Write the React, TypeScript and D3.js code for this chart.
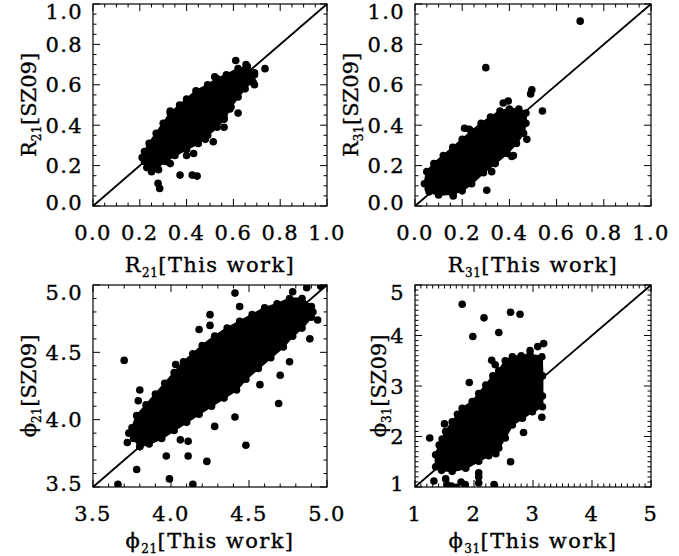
import React from "react";
import * as d3 from "d3";

type Pt = [number, number];

// ---------- Tick values / labels ----------
const rTicks = [0, 0.2, 0.4, 0.6, 0.8, 1.0];
const rTickLabels = ["0.0", "0.2", "0.4", "0.6", "0.8", "1.0"];
const phi21Ticks = [3.5, 4.0, 4.5, 5.0];
const phi21TickLabels = ["3.5", "4.0", "4.5", "5.0"];
const phi31Ticks = [1, 2, 3, 4, 5];
const phi31TickLabels = ["1", "2", "3", "4", "5"];

// ---------- Panel 1: R21 ----------
// boundary points of the dense core of the cloud
const r21Core: Pt[] = [
  [0.22, 0.22], [0.23, 0.19], [0.27, 0.19], [0.31, 0.22], [0.35, 0.25], [0.40, 0.28],
  [0.45, 0.31], [0.49, 0.35], [0.53, 0.39], [0.56, 0.43], [0.59, 0.49], [0.62, 0.54],
  [0.65, 0.58], [0.68, 0.62], [0.69, 0.65], [0.66, 0.69], [0.62, 0.68], [0.57, 0.65],
  [0.53, 0.63], [0.49, 0.60], [0.44, 0.57], [0.40, 0.53], [0.37, 0.50], [0.33, 0.46],
  [0.30, 0.41], [0.27, 0.36], [0.24, 0.31], [0.22, 0.27],
];
const r21Outliers: Pt[] = [
  [0.25, 0.17], [0.28, 0.18], [0.278, 0.112], [0.285, 0.087], [0.33, 0.21], [0.372, 0.153],
  [0.424, 0.153], [0.445, 0.148], [0.43, 0.26], [0.514, 0.318], [0.526, 0.396], [0.56, 0.39],
  [0.56, 0.44], [0.585, 0.48], [0.62, 0.46], [0.52, 0.64], [0.61, 0.72], [0.654, 0.70],
  [0.69, 0.66], [0.735, 0.68], [0.685, 0.61], [0.69, 0.60], [0.33, 0.47], [0.21, 0.24],
  [0.40, 0.25], [0.48, 0.33],
];

// ---------- Panel 2: R31 ----------
const r31Core: Pt[] = [
  [0.04, 0.11], [0.06, 0.07], [0.10, 0.055], [0.16, 0.06], [0.20, 0.075], [0.24, 0.11],
  [0.29, 0.165], [0.34, 0.21], [0.39, 0.26], [0.43, 0.31], [0.46, 0.36], [0.47, 0.41],
  [0.47, 0.46], [0.44, 0.48], [0.40, 0.48], [0.36, 0.47], [0.32, 0.44], [0.28, 0.41],
  [0.24, 0.37], [0.20, 0.33], [0.16, 0.29], [0.12, 0.25], [0.08, 0.21], [0.05, 0.17],
];
const r31Outliers: Pt[] = [
  [0.70, 0.915], [0.30, 0.685], [0.495, 0.575], [0.49, 0.555], [0.54, 0.47], [0.474, 0.33],
  [0.417, 0.25], [0.41, 0.245], [0.325, 0.17], [0.304, 0.078], [0.162, 0.05], [0.21, 0.385],
  [0.23, 0.38], [0.374, 0.51], [0.395, 0.52], [0.056, 0.085], [0.43, 0.44], [0.36, 0.30],
];

// ---------- Panel 3: phi21 ----------
const phi21Core: Pt[] = [
  [3.76, 3.86], [3.75, 3.94], [3.78, 4.03], [3.84, 4.11], [3.90, 4.19], [3.96, 4.27],
  [4.02, 4.35], [4.08, 4.43], [4.14, 4.49], [4.20, 4.55], [4.28, 4.62], [4.36, 4.68],
  [4.44, 4.73], [4.52, 4.78], [4.60, 4.83], [4.68, 4.86], [4.76, 4.90], [4.84, 4.90],
  [4.90, 4.84], [4.90, 4.76], [4.84, 4.68], [4.78, 4.62], [4.72, 4.54], [4.64, 4.46],
  [4.56, 4.38], [4.48, 4.30], [4.42, 4.22], [4.34, 4.16], [4.26, 4.10], [4.18, 4.04],
  [4.10, 3.98], [4.02, 3.92], [3.94, 3.86], [3.86, 3.82], [3.80, 3.80],
];
const phi21Outliers: Pt[] = [
  [3.70, 4.44], [3.80, 4.22], [3.79, 4.14], [3.73, 3.90], [3.72, 3.83], [3.80, 3.80],
  [3.78, 3.63], [3.66, 3.52], [3.99, 3.56], [4.14, 3.52], [3.97, 3.73], [4.11, 3.73],
  [4.11, 3.84], [4.23, 3.69], [4.48, 3.81], [4.28, 3.95], [4.41, 4.02], [4.57, 4.26],
  [4.69, 4.12], [4.70, 4.33], [4.76, 4.43], [4.89, 4.60], [4.94, 4.74], [4.91, 4.80],
  [4.96, 4.99], [4.87, 4.98], [4.78, 4.95], [4.41, 4.94], [4.25, 4.78], [4.25, 4.70],
  [4.18, 4.67], [4.12, 4.36], [4.03, 4.41], [4.01, 4.30], [4.44, 4.84], [3.92, 4.07],
  [4.06, 3.85], [3.86, 3.88],
];

// ---------- Panel 4: phi31 ----------
const phi31Core: Pt[] = [
  [1.35, 1.40], [1.35, 1.64], [1.41, 1.83], [1.52, 2.10], [1.63, 2.29], [1.80, 2.56],
  [1.97, 2.69], [2.08, 2.85], [2.20, 3.02], [2.32, 3.20], [2.42, 3.30], [2.53, 3.50],
  [2.65, 3.58], [2.80, 3.60], [2.95, 3.62], [3.15, 3.58], [3.16, 3.20], [3.16, 2.80],
  [3.16, 2.59], [2.99, 2.49], [2.82, 2.36], [2.65, 2.23], [2.53, 1.97], [2.42, 1.77],
  [2.25, 1.62], [2.08, 1.51], [1.86, 1.37], [1.63, 1.31], [1.45, 1.33],
];
const phi31Outliers: Pt[] = [
  [1.25, 1.97], [1.46, 1.95], [1.50, 2.25], [1.72, 2.44], [1.92, 3.07], [1.98, 3.98],
  [2.17, 4.35], [2.42, 4.06], [2.62, 4.46], [2.78, 4.42], [1.80, 4.62], [2.30, 3.51],
  [2.36, 3.42], [3.08, 3.78], [3.18, 3.84], [2.95, 3.70], [3.15, 2.38], [2.84, 2.08],
  [2.62, 1.50], [2.37, 1.66], [2.08, 1.28], [2.08, 1.20], [2.08, 1.08], [2.34, 1.05],
  [1.32, 1.12], [1.52, 1.16], [1.54, 1.05], [1.62, 1.02], [1.78, 1.10], [1.85, 1.05],
  [1.70, 0.99],
];

const FONT = "'DejaVu Serif', 'Liberation Serif', serif";
const DOT_R = 3.8;
const TXT = { fontFamily: FONT, fontSize: 21, fill: "#000", stroke: "#000", strokeWidth: 0.35, letterSpacing: 1.4 };

interface Frame { left: number; right: number; top: number; bottom: number; }

interface PanelProps {
  id: string;
  frame: Frame;
  domain: [number, number];
  ticks: number[];
  tickLabels: string[];
  minorStep: number;
  core: Pt[];
  outliers: Pt[];
  sym: string;
  sub: string;
  yTitleX: number;
  xTitleOffset: number;
}

function AxisTitle({ x, y, sym, sub, rest, rotate }: { x: number; y: number; sym: string; sub: string; rest: string; rotate?: boolean }) {
  return (
    <text
      x={0}
      y={0}
      transform={rotate ? `translate(${x},${y}) rotate(-90)` : `translate(${x},${y})`}
      textAnchor="middle"
      {...TXT}
      letterSpacing={rotate ? 0 : 1.4}
    >
      <tspan>{sym}</tspan>
      <tspan fontSize={12} dy={5} letterSpacing={0.5}>{sub}</tspan>
      <tspan dy={-5}>{rest}</tspan>
    </text>
  );
}

function Panel(p: PanelProps) {
  const { frame, domain } = p;
  const x = d3.scaleLinear().domain(domain).range([frame.left, frame.right]);
  const y = d3.scaleLinear().domain(domain).range([frame.bottom, frame.top]);
  const minor = d3.range(domain[0], domain[1] + 1e-9, p.minorStep);
  const majorLen = 7;
  const minorLen = 3.5;
  const line = d3.line<Pt>().x((d) => x(d[0])).y((d) => y(d[1]));
  const area = d3.line<Pt>().x((d) => x(d[0])).y((d) => y(d[1])).curve(d3.curveLinearClosed);
  const diag: Pt[] = [[domain[0], domain[0]], [domain[1], domain[1]]];
  const cx = (frame.left + frame.right) / 2;
  const cy = (frame.top + frame.bottom) / 2;
  const labelY = (t: number) => Math.min(Math.max(y(t), frame.top + 7), frame.bottom - 4);

  return (
    <g>
      <defs>
        <clipPath id={`clip-${p.id}`}>
          <rect x={frame.left} y={frame.top} width={frame.right - frame.left} height={frame.bottom - frame.top} />
        </clipPath>
      </defs>
      <g clipPath={`url(#clip-${p.id})`}>
        <path d={area(p.core) || ""} fill="#000" stroke="#000" strokeWidth={2} />
        {p.core.map((d, i) => (
          <circle key={`c${i}`} cx={x(d[0])} cy={y(d[1])} r={DOT_R} fill="#000" />
        ))}
        {p.outliers.map((d, i) => (
          <circle key={`o${i}`} cx={x(d[0])} cy={y(d[1])} r={DOT_R} fill="#000" />
        ))}
      </g>
      <path d={line(diag) || ""} fill="none" stroke="#000" strokeWidth={1.8} />
      <rect
        x={frame.left}
        y={frame.top}
        width={frame.right - frame.left}
        height={frame.bottom - frame.top}
        fill="none"
        stroke="#000"
        strokeWidth={1.2}
      />
      {minor.map((v, i) => {
        const isMajor = p.ticks.some((t) => Math.abs(t - v) < 1e-6);
        const len = isMajor ? majorLen : minorLen;
        const xv = x(v);
        const yv = y(v);
        return (
          <g key={`t${i}`} stroke="#000" strokeWidth={1}>
            <line x1={xv} x2={xv} y1={frame.bottom} y2={frame.bottom - len} />
            <line x1={xv} x2={xv} y1={frame.top} y2={frame.top + len} />
            <line x1={frame.left} x2={frame.left + len} y1={yv} y2={yv} />
            <line x1={frame.right} x2={frame.right - len} y1={yv} y2={yv} />
          </g>
        );
      })}
      {p.ticks.map((t, i) => (
        <text key={`xl${i}`} x={x(t)} y={frame.bottom + 34} textAnchor="middle" {...TXT}>
          {p.tickLabels[i]}
        </text>
      ))}
      {p.ticks.map((t, i) => (
        <text key={`yl${i}`} x={frame.left - 10} y={labelY(t)} dy="0.36em" textAnchor="end" {...TXT}>
          {p.tickLabels[i]}
        </text>
      ))}
      <AxisTitle x={cx} y={frame.bottom + p.xTitleOffset} sym={p.sym} sub={p.sub} rest="[This work]" />
      <AxisTitle x={p.yTitleX} y={cy} sym={p.sym} sub={p.sub} rest="[SZ09]" rotate />
    </g>
  );
}

export default function App() {
  const topRow = { top: 4, bottom: 206 };
  const botRow = { top: 285, bottom: 487 };
  const leftCol = { left: 93, right: 327 };
  const rightCol = { left: 415, right: 651 };
  return (
    <svg
      width={679}
      height={556}
      style={{ display: "block", position: "absolute", left: 0, top: 0, background: "#fff" }}
    >
      <rect width={679} height={556} fill="#fff" />
      <Panel
        id="r21"
        frame={{ ...leftCol, ...topRow }}
        domain={[0, 1]}
        ticks={rTicks}
        tickLabels={rTickLabels}
        minorStep={0.05}
        core={r21Core}
        outliers={r21Outliers}
        sym="R"
        sub="21"
        yTitleX={36}
        xTitleOffset={66}
      />
      <Panel
        id="r31"
        frame={{ ...rightCol, ...topRow }}
        domain={[0, 1]}
        ticks={rTicks}
        tickLabels={rTickLabels}
        minorStep={0.05}
        core={r31Core}
        outliers={r31Outliers}
        sym="R"
        sub="31"
        yTitleX={358}
        xTitleOffset={66}
      />
      <Panel
        id="p21"
        frame={{ ...leftCol, ...botRow }}
        domain={[3.5, 5.0]}
        ticks={phi21Ticks}
        tickLabels={phi21TickLabels}
        minorStep={0.1}
        core={phi21Core}
        outliers={phi21Outliers}
        sym="ϕ"
        sub="21"
        yTitleX={36}
        xTitleOffset={61}
      />
      <Panel
        id="p31"
        frame={{ ...rightCol, ...botRow }}
        domain={[1, 5]}
        ticks={phi31Ticks}
        tickLabels={phi31TickLabels}
        minorStep={0.1}
        core={phi31Core}
        outliers={phi31Outliers}
        sym="ϕ"
        sub="31"
        yTitleX={386}
        xTitleOffset={61}
      />
    </svg>
  );
}
